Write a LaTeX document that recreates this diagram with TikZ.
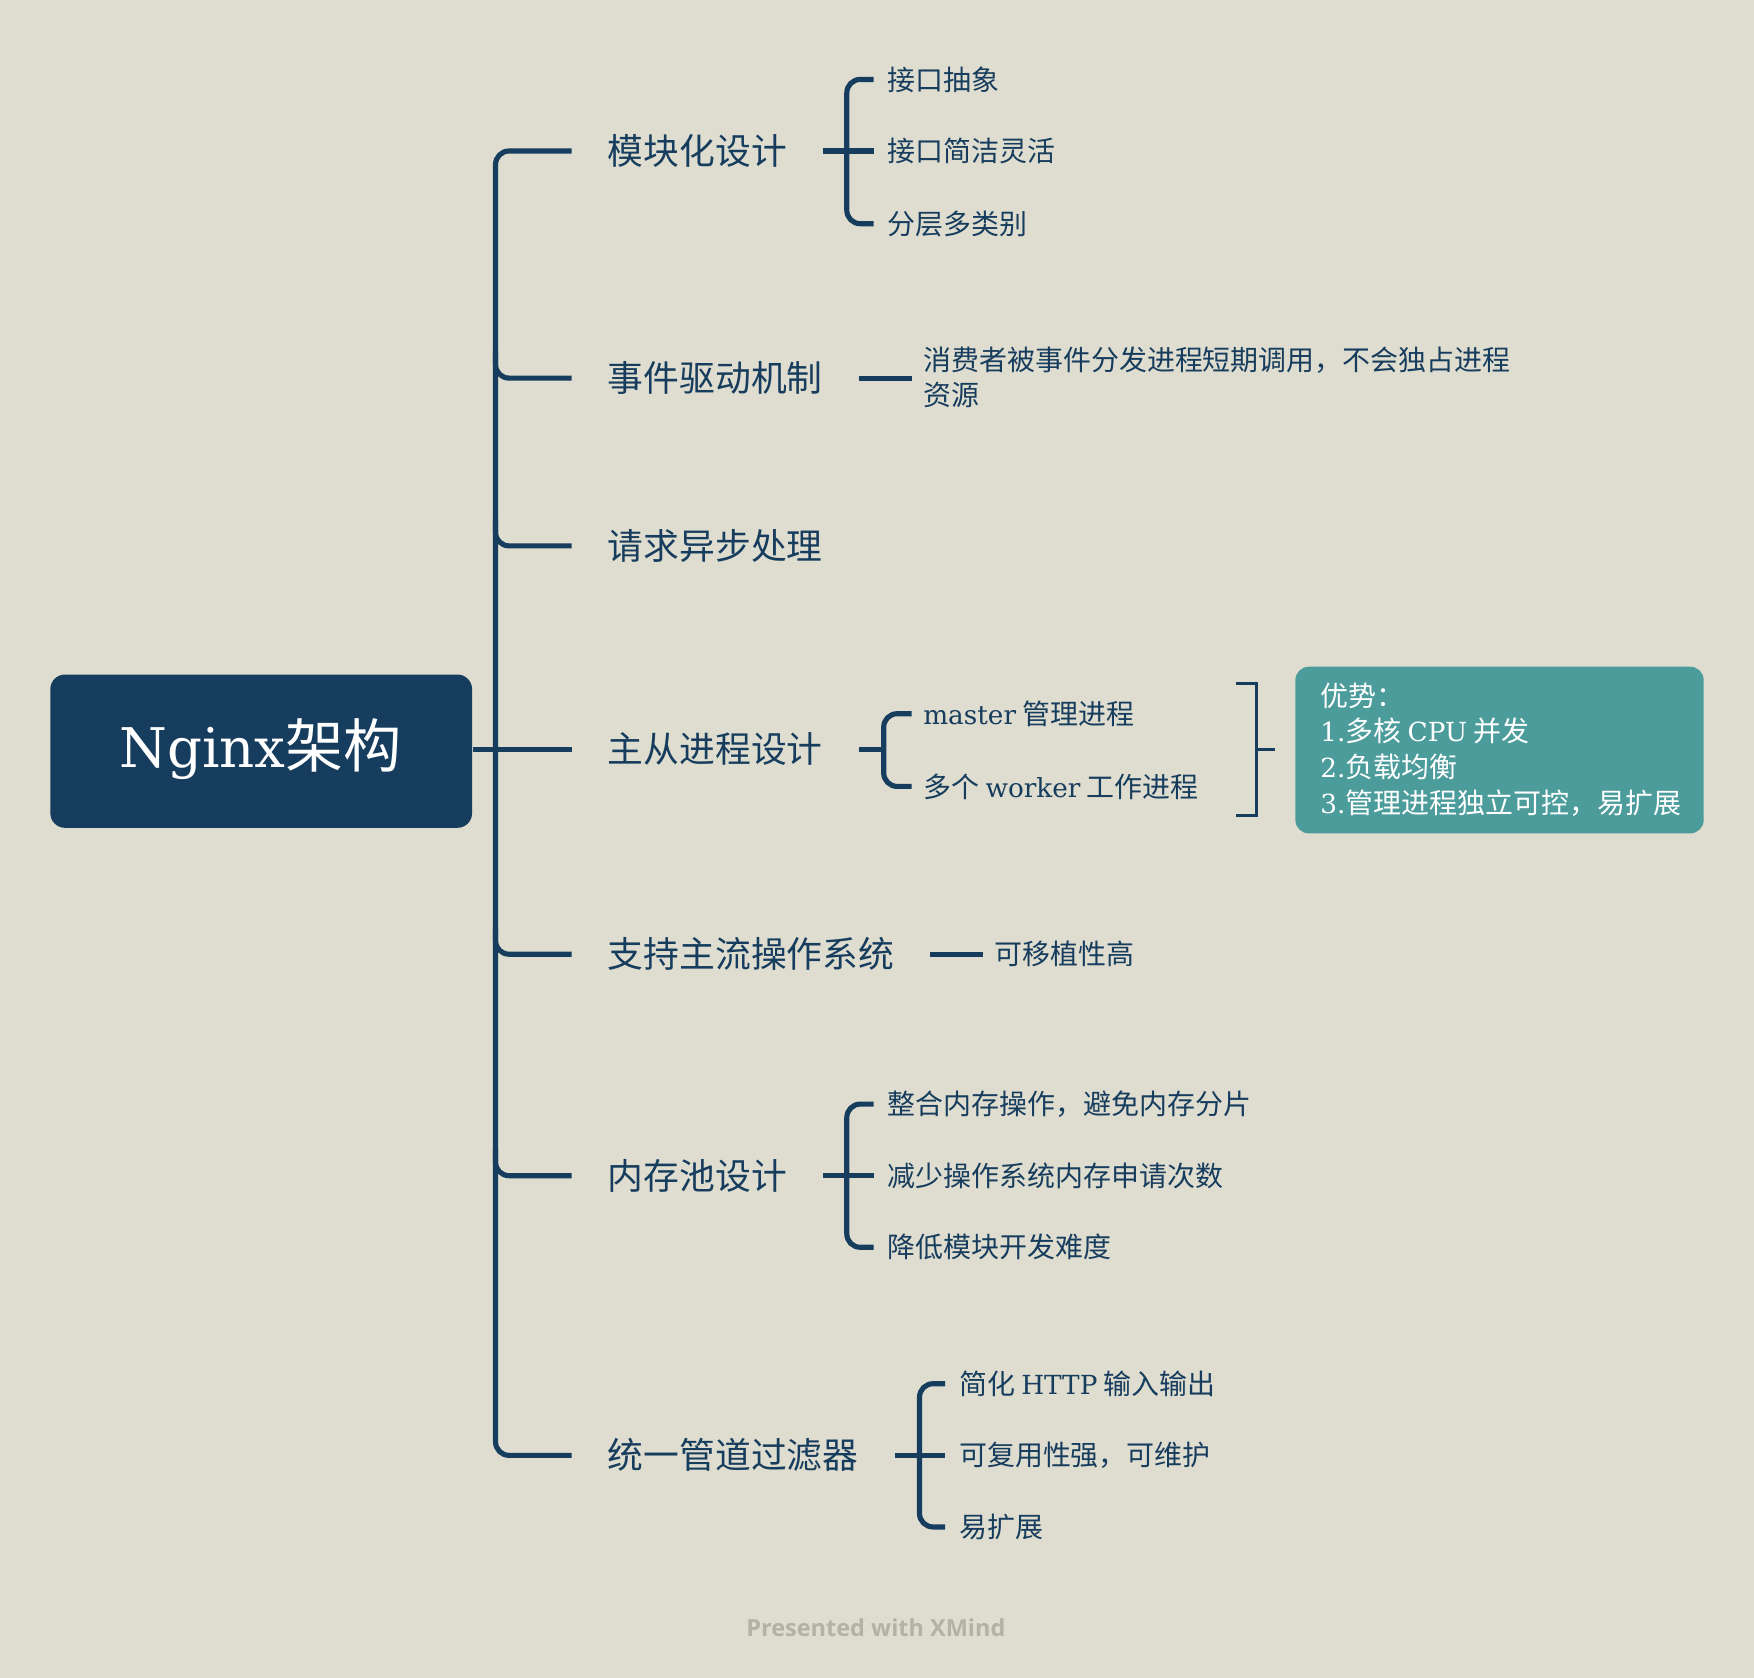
\documentclass[tikz,border=0pt]{standalone}
\usepackage{fontspec}
\setmainfont{Noto Sans CJK SC}
\newfontfamily\lat[Scale=0.94]{DejaVu Serif}
\newfontfamily\xm{Open Sans}
\definecolor{bg}{HTML}{DFDDCF}
\definecolor{navy}{HTML}{173D5E}
\definecolor{tealbox}{HTML}{4D9C9C}
\definecolor{foot}{HTML}{B4B2A6}
\begin{document}
\begin{tikzpicture}[x=0.5pt,y=-0.5pt,
  lone/.style={anchor=west, text=navy, font=\fontsize{16}{19}\selectfont, inner sep=0pt},
  ltwo/.style={anchor=west, text=navy, font=\fontsize{12.5}{15.5}\selectfont, inner sep=0pt, align=left},
  ln/.style={draw=navy, line width=2.3pt, rounded corners=6pt},
  sb/.style={draw=navy, line width=1.3pt},
  ]
\fill[bg] (0,0) rectangle (1568,1500);
\useasboundingbox (0,0) rectangle (1568,1500);

% root
\node[fill=navy, rounded corners=6.5pt, minimum width=188.5pt, minimum height=68.5pt, inner sep=0pt] (root) at (233.5,671.5) {};
\node[text=white, font=\fontsize{26}{30}\selectfont, inner sep=0pt] (roottext) at (233,670) {{\lat Nginx}架构};

% level 1
\node[lone] (la) at (543,135) {模块化设计};
\node[lone] (lb) at (543,338) {事件驱动机制};
\node[lone] (lc) at (543,488) {请求异步处理};
\node[lone] (ld) at (543,670) {主从进程设计};
\node[lone] (le) at (543,853) {支持主流操作系统};
\node[lone] (lf) at (543,1051) {内存池设计};
\node[lone] (lg) at (543,1301) {统一管道过滤器};

\coordinate (spT) at (443,135);
\coordinate (spb) at (443,338);
\coordinate (spc) at (443,488);
\coordinate (spd) at (443,670);
\coordinate (spe) at (443,853);
\coordinate (spf) at (443,1051);
\coordinate (spB) at (443,1301);

\draw[ln] ([xshift=-16pt]la.west) -- (spT) -- (spB) -- ([xshift=-16pt]lg.west);
\draw[ln] ([yshift=12pt]spb) -- (spb) -- ([xshift=-16pt]lb.west);
\draw[ln] ([yshift=12pt]spc) -- (spc) -- ([xshift=-16pt]lc.west);
\draw[ln] ([yshift=12pt]spe) -- (spe) -- ([xshift=-16pt]le.west);
\draw[ln] ([yshift=12pt]spf) -- (spf) -- ([xshift=-16pt]lf.west);
\draw[ln] (ld.west -| root.east) -- ([xshift=-16pt]ld.west);

% group A
\node[ltwo] (a1) at (793,71) {接口抽象};
\node[ltwo] (a2) at (793,135) {接口简洁灵活};
\node[ltwo] (a3) at (793,200) {分层多类别};
\draw[ln] ([xshift=16pt]la.east) -- ([xshift=-6pt]a2.west);
\draw[ln] ([xshift=-6pt]a1.west) -| ([xshift=-18pt]a2.west) |- ([xshift=-6pt]a3.west);

% group B
\node[ltwo] (b1) at (825,337.5) {消费者被事件分发进程短期调用，不会独占进程\\资源};
\draw[ln] ([xshift=16pt]lb.east) -- ([xshift=-5pt]b1.west |- lb.east);

% group D
\node[ltwo] (d1) at (825,638) {{\lat master} 管理进程};
\node[ltwo] (d2) at (825,703) {多个 {\lat worker} 工作进程};
\coordinate (dm) at (790,670);
\draw[ln] ([xshift=16pt]ld.east) -- (dm);
\draw[ln] ([xshift=-5pt]d1.west) -| (dm) |- ([xshift=-5pt]d2.west);

% summary bracket and callout
\node[fill=tealbox, rounded corners=6pt, minimum width=182.5pt, minimum height=74.5pt, inner sep=0pt] (adv) at (1340.5,670.5) {};
\node[anchor=west, text=white, font=\fontsize{12.5}{16}\selectfont, inner sep=0pt, align=left] (advtext) at (1180,670)
  {优势：\\{\lat 1.}多核 {\lat CPU} 并发\\{\lat 2.}负载均衡\\{\lat 3.}管理进程独立可控，易扩展};
\coordinate (sbT) at (1105,611);
\coordinate (sbB) at (1105,729);
\coordinate (sbM) at (1123,670);
\draw[sb] (sbT) -- (1123,611) -- (1123,729) -- (sbB);
\draw[sb] (sbM) -- ([xshift=-9pt]adv.west |- sbM);

% group E
\node[ltwo] (e1) at (889,853) {可移植性高};
\draw[ln] ([xshift=16pt]le.east) -- ([xshift=-5pt]e1.west |- le.east);

% group F
\node[ltwo] (f1) at (793,987) {整合内存操作，避免内存分片};
\node[ltwo] (f2) at (793,1051) {减少操作系统内存申请次数};
\node[ltwo] (f3) at (793,1115) {降低模块开发难度};
\draw[ln] ([xshift=16pt]lf.east) -- ([xshift=-6pt]f2.west);
\draw[ln] ([xshift=-6pt]f1.west) -| ([xshift=-18pt]f2.west) |- ([xshift=-6pt]f3.west);

% group G
\node[ltwo] (g1) at (857,1237) {简化 {\lat HTTP} 输入输出};
\node[ltwo] (g2) at (857,1301) {可复用性强，可维护};
\node[ltwo] (g3) at (857,1365) {易扩展};
\draw[ln] ([xshift=16pt]lg.east) -- ([xshift=-6pt]g2.west);
\draw[ln] ([xshift=-6pt]g1.west) -| ([xshift=-17.5pt]g2.west) |- ([xshift=-6pt]g3.west);

% footer
\node[text=foot, font=\xm\bfseries\fontsize{10.5}{12}\selectfont, inner sep=0pt] (footer) at (783,1455) {Presented with XMind};
\end{tikzpicture}
\end{document}
